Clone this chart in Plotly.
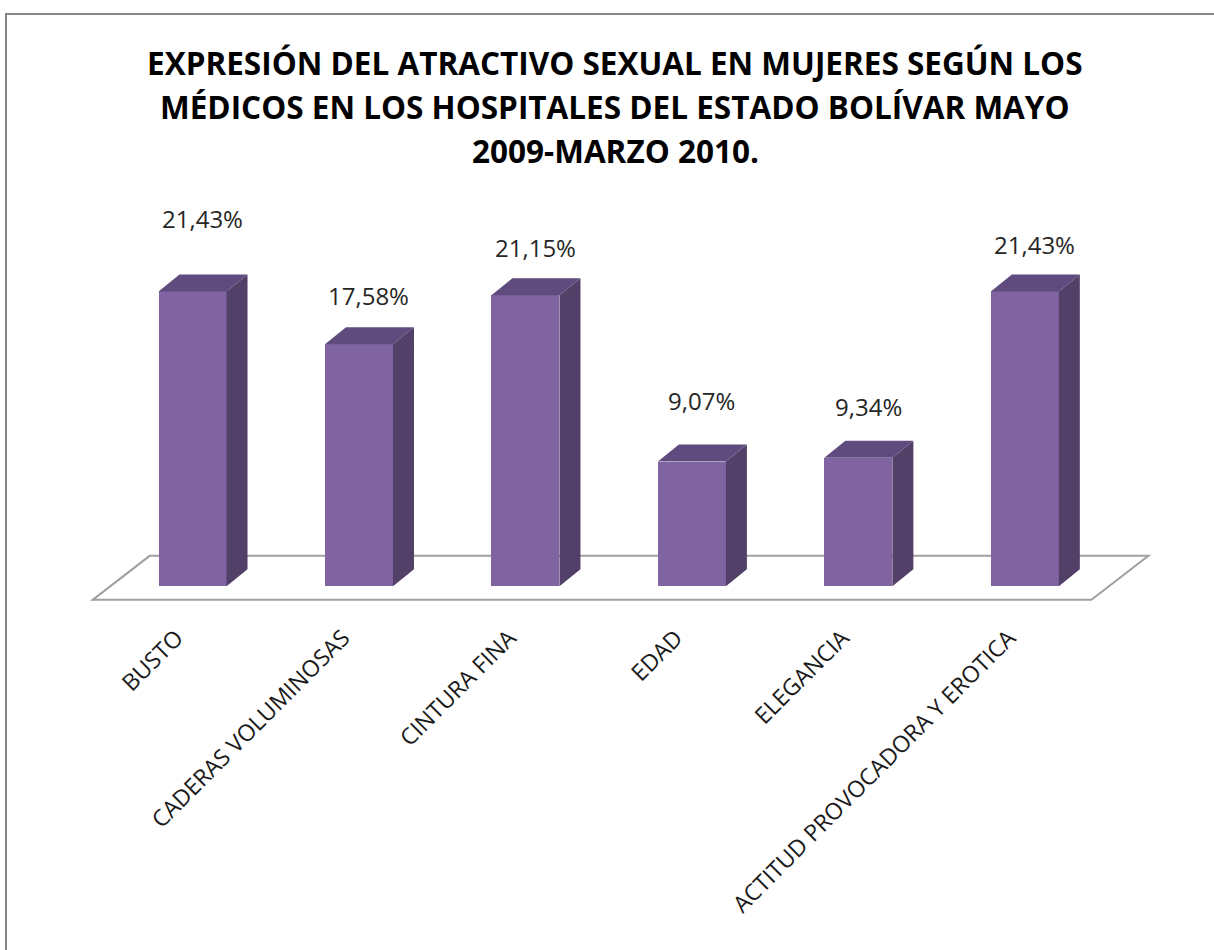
import plotly.graph_objects as go

# ---- data ----
categories = ["BUSTO", "CADERAS VOLUMINOSAS", "CINTURA FINA", "EDAD", "ELEGANCIA",
              "ACTITUD PROVOCADORA Y EROTICA"]
values = [21.43, 17.58, 21.15, 9.07, 9.34, 21.43]
value_labels = ["21,43%", "17,58%", "21,15%", "9,07%", "9,34%", "21,43%"]

# ---- style / layout ----
label_yshift = [73, 49, 48, 61, 51, 47]
FRONT = "#8064A2"
SIDE = "#524068"
TOP = "#5F4B7D"
FONT = "Open Sans"

W, H = 1214, 950
ML, MR, MT, MB = 76, 56, 256, 343
XR = [-0.7, 5.8]
YR = [-1.5, 24]
pw, ph = W - ML - MR, H - MT - MB
px_x = pw / (XR[1] - XR[0])
px_y = ph / (YR[1] - YR[0])

bw = 68 / px_x          # bar width in x units
dx = 21 / px_x          # depth offset
dy = 17 / px_y
fdx = 57 / px_x         # floor depth
fdy = 44 / px_y
f_front = -13.5 / px_y
tick_off = -16 / px_x

n = len(categories)
xpos = list(range(n))

fig = go.Figure()

fig.add_trace(go.Bar(x=xpos, y=values, width=bw, marker=dict(color=FRONT, line=dict(width=0)),
                     hoverinfo="skip", showlegend=False))

sx, sy, tx, ty = [], [], [], []
for x, v in zip(xpos, values):
    xl, xr = x - bw / 2, x + bw / 2
    sx += [xr, xr + dx, xr + dx, xr, xr, None]
    sy += [0, dy, v + dy, v, 0, None]
    tx += [xl, xl + dx, xr + dx, xr, xl, None]
    ty += [v, v + dy, v + dy, v, v, None]

fig.add_trace(go.Scatter(x=sx, y=sy, mode="lines", fill="toself", fillcolor=SIDE,
                         line=dict(width=0, color=SIDE), hoverinfo="skip", showlegend=False))
fig.add_trace(go.Scatter(x=tx, y=ty, mode="lines", fill="toself", fillcolor=TOP,
                         line=dict(width=0, color=TOP), hoverinfo="skip", showlegend=False))

# floor
fl = xpos[0] - 0.6
fr = xpos[-1] + 0.6 - 0.2
path = (f"M {fl},{f_front} L {fl + fdx},{f_front + fdy} L {fr + fdx},{f_front + fdy} "
        f"L {fr},{f_front} Z")
fig.add_shape(type="path", path=path, xref="x", yref="y", layer="below",
              fillcolor="white", line=dict(color="#A0A0A0", width=2))

# value labels
for x, v, t, ys in zip(xpos, values, value_labels, label_yshift):
    fig.add_annotation(x=x, y=v, xref="x", yref="y", text=t, showarrow=False,
                       xshift=10, yshift=ys, yanchor="middle",
                       font=dict(family=FONT, size=24, color="#262626"))

# title lines
title_lines = ["EXPRESIÓN DEL ATRACTIVO SEXUAL EN MUJERES SEGÚN LOS",
               "MÉDICOS EN LOS HOSPITALES DEL ESTADO BOLÍVAR MAYO",
               "2009-MARZO 2010."]
for k, line in enumerate(title_lines):
    ypix = 62 + 44 * k
    fig.add_annotation(x=(615 - ML) / pw, y=(H - MB - ypix) / ph, xref="paper", yref="paper",
                       text=f"<b>{line}</b>", showarrow=False, xanchor="center", yanchor="middle",
                       font=dict(family=FONT, size=31.5, color="#000000"))

# chart border
fig.add_shape(type="rect", xref="paper", yref="paper",
              x0=(6 - ML) / pw, x1=1.3, y0=-1.5, y1=(H - MB - 14) / ph,
              line=dict(color="#868686", width=2), fillcolor="rgba(0,0,0,0)", layer="below")

fig.update_layout(
    width=W, height=H,
    margin=dict(l=ML, r=MR, t=MT, b=MB),
    paper_bgcolor="white", plot_bgcolor="white",
    bargap=0, showlegend=False,
    xaxis=dict(range=XR, tickmode="array", tickvals=[x + tick_off for x in xpos],
               ticktext=categories,
               tickangle=-45, showgrid=False, zeroline=False, showline=False, ticks="",
               ticklabelstandoff=12,
               tickfont=dict(family=FONT, size=23, color="#1A1A1A"), fixedrange=True),
    yaxis=dict(range=YR, visible=False, fixedrange=True),
)

fig.write_html("out.html", config={"displayModeBar": False},
               post_script="document.body.style.margin='0';")
